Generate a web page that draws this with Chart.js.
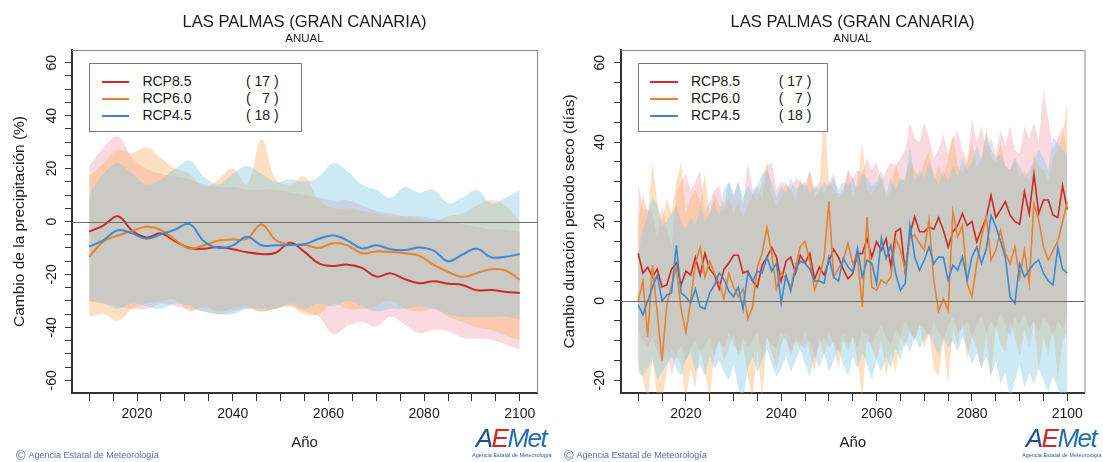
<!DOCTYPE html>
<html lang="es">
<head>
<meta charset="utf-8">
<title>Las Palmas (Gran Canaria) - Anual</title>
<script src="https://cdn.jsdelivr.net/npm/chart.js@4.4.0/dist/chart.umd.min.js"></script>
<style>
   html, body { margin: 0; padding: 0; background: #fff; }
   #wrap { position: relative; width: 1103px; height: 462px; overflow: hidden; background: #fff;
           font-family: "Liberation Sans", Arial, sans-serif; color: #1a1a1a; }
   canvas { position: absolute; top: 0; }
   #precChart { left: 0; }
   #dryChart { left: 551px; }
   .ttl { position: absolute; top: 12px; text-align: center; font-size: 16.6px; line-height: 20px; }
   .sub { position: absolute; top: 31px; text-align: center; font-size: 11.5px; line-height: 14px; }
   .leg { position: absolute; top: 63px; height: 69px; border: 1px solid #7a7a7a; box-sizing: border-box; background: #fff; }
   .leg .row { position: absolute; left: 0; right: 0; height: 17px; font-size: 14px; line-height: 17px; }
   .leg .ln { position: absolute; top: 8px; height: 2px; }
   .leg .nm { position: absolute; top: 0; }
   .leg .ct { position: absolute; top: 0; white-space: pre; }
   .foot { position: absolute; top: 449px; font-size: 9px; line-height: 13px; color: #4d6fa3; white-space: nowrap; }
   .foot b { font-weight: normal; font-size: 13px; vertical-align: -2px; margin-right: 3px; }
   .logo { position: absolute; top: 424px; width: 78px; text-align: center; }
   .logo .mk { font-style: italic; font-size: 26px; line-height: 28px; letter-spacing: -1.5px; }
   .logo .mk .a { color: #1d4f9c; }
   .logo .mk .e { color: #d7261e; }
   .logo .mk .m { color: #1f6db5; }
   .logo .cap { font-size: 5.5px; line-height: 7px; color: #2b5c9e; white-space: nowrap; }
</style>
</head>
<body>
<div id="wrap">
   <canvas id="precChart" width="551" height="462"></canvas>
   <canvas id="dryChart" width="552" height="462"></canvas>

   <div class="ttl" style="left:72px; width:465px;">LAS PALMAS (GRAN CANARIA)</div>
   <div class="sub" style="left:72px; width:465px;">ANUAL</div>
   <div class="ttl" style="left:621px; width:463px;">LAS PALMAS (GRAN CANARIA)</div>
   <div class="sub" style="left:621px; width:463px;">ANUAL</div>

   <div class="leg" id="precLegend" style="left:89px; width:213px;"></div>
   <div class="leg" id="dryLegend" style="left:638px; width:190px;"></div>

   <div class="foot" style="left:16px;"><b>©</b>Agencia Estatal de Meteorología</div>
   <div class="foot" style="left:564px;"><b>©</b>Agencia Estatal de Meteorología</div>

   <div class="logo" style="left:472px;">
      <div class="mk"><span class="a">A</span><span class="e">E</span><span class="m">Met</span></div>
      <div class="cap">Agencia Estatal de Meteorología</div>
   </div>
   <div class="logo" style="left:1022px;">
      <div class="mk"><span class="a">A</span><span class="e">E</span><span class="m">Met</span></div>
      <div class="cap">Agencia Estatal de Meteorología</div>
   </div>
</div>

<script>
/* -----------------------------------------------------------------------
      series / legend
   ----------------------------------------------------------------------- */
const scenarios = ['RCP8.5', 'RCP6.0', 'RCP4.5'];
const modelCounts = [17, 7, 18];

const xTickLabels = [2020, 2040, 2060, 2080, 2100];
const precTickLabels = [-60, -40, -20, 0, 20, 40, 60];
const dryTickLabels = [-20, 0, 20, 40, 60];

/* -----------------------------------------------------------------------
      left : cambio de la precipitacion (%) - smoothed
   ----------------------------------------------------------------------- */
const precYears = [2010, 2013, 2016, 2019, 2022, 2025, 2028, 2031, 2034, 2037, 2040,
   2043, 2046, 2049, 2052, 2055, 2058, 2061, 2064, 2067, 2070,
   2073, 2076, 2079, 2082, 2085, 2088, 2091, 2094, 2097, 2100];

const precR85 = [-3.8, -1.5, 2.0, -3.5, -6.0, -4.5, -7.5, -10.0, -10.3, -9.6, -10.5,
   -11.6, -12.3, -11.8, -8.0, -11.5, -15.8, -16.8, -16.3, -17.5, -20.8,
   -19.6, -21.8, -23.3, -22.6, -23.5, -24.0, -26.0, -25.9, -26.5, -27.0];
const precR60 = [-13.3, -7.5, -5.3, -3.5, -2.0, -3.2, -7.0, -10.2, -9.0, -7.2, -6.8,
   -6.5, -1.1, -7.0, -8.8, -8.8, -10.0, -8.2, -9.0, -12.0, -11.3,
   -11.5, -12.0, -13.0, -16.4, -19.0, -21.0, -19.5, -18.0, -18.5, -22.0];
const precR45 = [-9.5, -7.0, -3.3, -4.5, -6.5, -4.8, -3.0, -1.0, -7.5, -10.0, -9.0,
   -5.8, -9.0, -9.0, -8.9, -8.6, -6.5, -5.3, -7.2, -10.2, -9.0,
   -10.5, -10.8, -9.8, -11.0, -15.0, -12.5, -10.3, -13.5, -13.3, -12.3];

const precR85Hi = [21, 28, 32, 24, 20, 18, 17, 16, 14, 13, 13,
   12, 12, 12, 11, 10, 9, 8, 8, 6, 4,
   3, 2, 2, 1, 0, -1, -2, -3, -3, -4];
const precR85Lo = [-30, -31, -32, -33, -33, -31, -32, -33, -34, -35, -34,
   -33, -34, -33, -32, -34, -36, -42.5, -39.5, -38, -39.7,
   -36, -39, -42.2, -41, -41.5, -44, -44.3, -44.7, -46.5, -48.5];
const precR60Hi = [17, 22, 27, 26, 28, 24, 20, 18, 13, 16, 20,
   14, 31, 16, 14, 17, 8, 5, 5, 4, 3,
   2, 2, 1, 0, 2, 3, 6, 8, 6, 0];
const precR60Lo = [-36, -35, -37.5, -33, -31, -30, -29.5, -34, -32, -34, -33,
   -32, -34, -33, -32, -35, -35, -31, -33, -33, -32,
   -30, -33, -34, -33, -36, -38, -40, -41, -43, -45];
const precR45Hi = [10, 18, 22, 18, 14, 16, 20, 23, 17, 14, 18,
   21, 18, 15, 16, 15, 17, 22, 19, 14, 12,
   9, 13, 11, 12, 7, 9, 12, 7, 9, 12];
const precR45Lo = [-30, -31, -33, -31, -32, -33, -31, -32, -34, -35, -35,
   -33, -33, -33, -31, -33, -31, -32, -30, -32, -34,
   -33, -33, -32, -33, -35, -36, -36, -36, -36, -37];

/* -----------------------------------------------------------------------
      right : cambio duracion periodo seco (dias) - yearly
   ----------------------------------------------------------------------- */
const dryYears = [
   2010, 2011, 2012, 2013, 2014, 2015, 2016, 2017, 2018, 2019,
   2020, 2021, 2022, 2023, 2024, 2025, 2026, 2027, 2028, 2029,
   2030, 2031, 2032, 2033, 2034, 2035, 2036, 2037, 2038, 2039,
   2040, 2041, 2042, 2043, 2044, 2045, 2046, 2047, 2048, 2049,
   2050, 2051, 2052, 2053, 2054, 2055, 2056, 2057, 2058, 2059,
   2060, 2061, 2062, 2063, 2064, 2065, 2066, 2067, 2068, 2069,
   2070, 2071, 2072, 2073, 2074, 2075, 2076, 2077, 2078, 2079,
   2080, 2081, 2082, 2083, 2084, 2085, 2086, 2087, 2088, 2089,
   2090, 2091, 2092, 2093, 2094, 2095, 2096, 2097, 2098, 2099,
   2100];

const dryR85 = [
   12, 7, 8.5, 6, 8, 3.5, 4, 8, 9.5, 4,
   7.5, 6.5, 11, 6.5, 12, 8, 6.5, 3, 8, 9.5,
   11.5, 11.5, 7, 7.5, 5, 3.5, 9, 11, 13.5, 11,
   5, 10, 11, 7, 11.5, 9.5, 12, 5.5, 8.5, 6.5,
   10, 13, 11, 8, 5.6, 6.9, 11.9, 11.9, 15.7, 11,
   14.9, 12.8, 15.7, 8.6, 17.4, 18.2, 7.3, 17, 21.2, 17.4,
   17.4, 18.7, 18, 21, 17.8, 13.6, 17.4, 19, 22, 19,
   20, 14.9, 18, 21, 26.6, 21, 23, 25, 21.6, 20,
   19.3, 27.5, 22, 32, 22, 25.4, 25.4, 21.6, 21, 29,
   23];
const dryR60 = [
   0, 5, -9, 9, -3, -15, -1, 4, 8.5, -2,
   -8, 0, 9.5, 13.5, 6, 10, 7, 4.5, 0.5, 7,
   3.5, 1, 3, -4.5, -1.5, 8.5, 12, 18.5, 12, 3,
   7, 5.7, 3.6, 8.7, 13.7, 15, 10, 2.8, 6, 11,
   25, 6, 8, 10.3, 14.5, 9.4, 11.1, -1.5, 21.2, 3.5,
   2.7, 5.2, 4.4, 6, 15.7, 12.8, 7.7, 16.1, 16.6, 14.5,
   12.8, 20.3, 5.2, -2.5, 0.5, -2.4, 22.4, 16.1, 19, 4.4,
   1, 9.4, 16.1, 21.2, 10.3, 12.8, 17.8, 12, 9.4, 13.6,
   6, 12.8, 4.4, 24.5, 20.3, 13.6, 10.3, 12.8, 15, 20,
   25];
const dryR45 = [
   -1, -3.5, 0, 3.5, 6.5, 0, 1.5, 2, 14, 2,
   1, -0.5, 3, -1.5, -2, 2, 4, 7, 5.5, 2.5,
   1, 3.5, -2, 7, 5, 7.5, 7, 11, 7.5, 9.5,
   -0.5, 6.5, 2.5, 8, 10, 9.5, 8, 5, 5, 4.5,
   11, 6, 5, 10.7, 8.6, 7.3, 13.2, 6, 10.3, 9.4,
   4.4, 15.7, 10.7, 14, 6.9, 2.7, 4.4, 19, 11.1, 7.7,
   10.3, 13.6, 9.4, 11.1, 11, 5.2, 9, 7.7, 11.1, 5.2,
   11.1, 13.6, 9.4, 13, 21.5, 18.7, 15, 11, 1, -0.7,
   9.4, 6, 7.7, 9.4, 10.3, 6.9, 5, 4, 13.5, 8,
   7];

const dryR85Hi = [
   30, 23, 23, 22, 16, 24, 18, 14, 27, 30,
   32, 28, 30, 33, 22, 25, 28, 29, 24, 30,
   26, 30, 24, 35, 28, 29, 26, 34, 35, 28,
   30, 29, 28, 31, 30, 29, 33, 28, 30, 27,
   30, 32, 27, 28, 33, 31, 33, 32, 36, 33,
   35, 30, 33, 35, 34, 36, 38, 45, 41, 40,
   45, 41, 36, 38, 42, 37, 41, 43, 38, 35,
   46, 40, 44, 38, 41, 37, 43, 39, 44, 38,
   37, 44, 41, 45, 40, 53, 46, 38, 41, 44,
   37];
const dryR85Lo = [
   -8, -10, -12, -9, -13, -16, -12, -19, -14, -11,
   -15, -12, -10, -13, -11, -9, -14, -10, -12, -8,
   -11, -13, -9, -12, -10, -8, -13, -9, -11, -12,
   -8, -10, -13, -9, -11, -12, -10, -14, -11, -9,
   -12, -10, -13, -8, -11, -9, -12, -7, -10, -11,
   -8, -6, -9, -11, -7, -9, -5, -8, -10, -6,
   -7, -9, -5, -8, -10, -6, -4, -8, -7, -5,
   -9, -6, -4, -8, -5, -7, -3, -6, -9, -4,
   -6, -3, -7, -5, -8, -4, -6, -9, -5, -7,
   -4];
const dryR60Hi = [
   20, 27, 22, 35, 25, 20, 26, 22, 30, 35,
   22, 26, 28, 25, 32, 22, 27, 24, 23, 26,
   22, 25, 21, 24, 27, 25, 30, 35, 27, 24,
   26, 30, 28, 25, 31, 27, 33, 26, 28, 49,
   30, 28, 26, 27, 33, 26, 30, 40, 28, 27,
   29, 31, 26, 28, 35, 30, 31, 36, 33, 31,
   35, 38, 30, 34, 31, 36, 42, 34, 32, 35,
   40, 33, 36, 43, 36, 35, 40, 34, 33, 36,
   31, 33, 30, 37, 34, 33, 30, 36, 38, 42,
   50];
const dryR60Lo = [
   -16, -20, -25, -14, -25, -25, -18, -12, -14, -16,
   -25, -17, -22, -12, -18, -25, -13, -10, -15, -12,
   -8, -14, -11, -19, -25, -12, -25, -9, -13, -17,
   -11, -8, -14, -10, -12, -7, -13, -18, -9, -14,
   -8, -11, -17, -10, -13, -9, -15, -25, -8, -12,
   -15, -10, -19, -13, -18, -9, -12, -7, -10, -6,
   -12, -8, -17, -19, -10, -21, -7, -11, -5, -15,
   -9, -12, -17, -8, -20, -6, -11, -13, -5, -9,
   -14, -7, -12, -5, -18, -9, -14, -6, -20, -10,
   -8];
const dryR45Hi = [
   12, 18, 22, 26, 24, 19, 20, 22, 24, 20,
   18, 21, 19, 24, 20, 22, 25, 21, 28, 30,
   27, 30, 26, 29, 27, 29, 32, 33, 30, 26,
   29, 27, 31, 28, 29, 30, 27, 29, 28, 30,
   29, 31, 28, 30, 29, 31, 28, 32, 31, 29,
   30, 33, 27, 31, 28, 31, 30, 39, 30, 33,
   31, 35, 32, 29, 33, 30, 34, 31, 36, 33,
   35, 39, 35, 43, 38, 36, 37, 34, 33, 36,
   34, 31, 33, 35, 38, 36, 33, 41, 40, 38,
   37];
const dryR45Lo = [
   -18, -19, -17, -15, -20, -18, -16, -14, -17, -19,
   -15, -13, -18, -16, -19, -14, -17, -15, -18, -20,
   -16, -22, -25, -17, -14, -18, -15, -12, -16, -19,
   -17, -14, -18, -15, -12, -16, -19, -14, -17, -13,
   -18, -15, -12, -16, -19, -14, -17, -13, -16, -20,
   -15, -18, -14, -17, -12, -15, -10, -13, -9, -12,
   -10, -8, -11, -14, -9, -12, -10, -13, -9, -12,
   -16, -13, -17, -14, -19, -15, -21, -18, -25, -20,
   -16, -22, -18, -21, -17, -20, -23, -19, -22, -25,
   -23];

/* -----------------------------------------------------------------------
      styles
   ----------------------------------------------------------------------- */
const lineColors = ['#cc2a22', '#e8822e', '#3a8ad6'];
const bandColors = ['rgba(240, 150, 170, 0.36)', 'rgba(250, 178, 100, 0.40)', 'rgba(135, 202, 226, 0.42)'];
const AXIS_COLOR = '#333333';
const TEXT_COLOR = '#1a1a1a';

Chart.defaults.font.family = '"Liberation Sans", Arial, sans-serif';
Chart.defaults.color = TEXT_COLOR;

/* -----------------------------------------------------------------------
      frame : zero line + light top/right box
   ----------------------------------------------------------------------- */
const framePlugin = {
   id: 'frame',
   afterDatasetsDraw: function(chart) {
      const ctx = chart.ctx;
      const a = chart.chartArea;
      const y0 = Math.round(chart.scales.y.getPixelForValue(0)) + 0.5;
      ctx.save();
      ctx.lineWidth = 1;
      ctx.strokeStyle = '#6b6b6b';
      ctx.beginPath();
      ctx.moveTo(a.left, y0);
      ctx.lineTo(a.right, y0);
      ctx.stroke();
      ctx.strokeStyle = '#8a8a8a';
      ctx.beginPath();
      ctx.moveTo(a.left, a.top + 0.5);
      ctx.lineTo(a.right + 0.5, a.top + 0.5);
      ctx.lineTo(a.right + 0.5, a.bottom);
      ctx.stroke();
      ctx.restore();
   }
};

function toPoints(years, values) {
   return years.map(function(yr, i) { return {x: yr, y: values[i]}; });
}

/* -----------------------------------------------------------------------
      datasets : 3 lines on top, 3 bands (upper fills to lower) below
   ----------------------------------------------------------------------- */
function buildDatasets(years, lines, bands, tension, lineWidth) {
   const sets = [];
   lines.forEach(function(vals, k) {
      sets.push({
         data: toPoints(years, vals),
         borderColor: lineColors[k],
         borderWidth: lineWidth,
         pointRadius: 0,
         fill: false,
         tension: tension,
         order: 2 - k,
      });
   });
   bands.forEach(function(band, k) {
      sets.push({
         data: toPoints(years, band[0]),
         borderColor: 'transparent',
         borderWidth: 0,
         backgroundColor: bandColors[k],
         pointRadius: 0,
         fill: '+1',
         tension: tension,
         order: 10 - k,
      });
      sets.push({
         data: toPoints(years, band[1]),
         borderColor: 'transparent',
         borderWidth: 0,
         pointRadius: 0,
         fill: false,
         tension: tension,
         order: 10 - k,
      });
   });
   return sets;
}

function buildScales(o) {
   return {
      x: {
         type: 'linear',
         min: 2006.4,
         max: 2103.6,
         afterFit: function(scale) { scale.height = 69; },
         border: {display: true, color: AXIS_COLOR, width: 2},
         grid: {drawOnChartArea: false, drawTicks: true, tickLength: 8, tickColor: AXIS_COLOR, tickWidth: 1},
         ticks: {
            stepSize: 5, includeBounds: false, autoSkip: false, maxTicksLimit: 200, maxRotation: 0, minRotation: 0,
            padding: 5, color: TEXT_COLOR, font: {size: 14},
            callback: function(v) { return xTickLabels.indexOf(v) >= 0 ? String(v) : ''; },
         },
         title: {display: true, text: 'Año', color: TEXT_COLOR, font: {size: 15}, padding: {top: 0, bottom: 10}},
      },
      y: {
         type: 'linear',
         min: o.yMin,
         max: o.yMax,
         afterFit: function(scale) { scale.width = o.yWidth; },
         border: {display: true, color: AXIS_COLOR, width: 2},
         grid: {drawOnChartArea: false, drawTicks: true, tickLength: 7, tickColor: AXIS_COLOR, tickWidth: 1},
         ticks: {
            stepSize: 5, includeBounds: false, autoSkip: false, maxTicksLimit: 200,
            minRotation: 90, maxRotation: 90, crossAlign: 'center',
            padding: o.tickPad, color: TEXT_COLOR, font: {size: 14},
            callback: function(v) { return o.labels.indexOf(v) >= 0 ? String(v) : ''; },
         },
         title: {display: true, text: o.title, color: TEXT_COLOR, font: {size: 15.5}, padding: {top: o.titlePad, bottom: 0}},
      },
   };
}

function makeChart(id, datasets, scales, padRight) {
   return new Chart(document.getElementById(id), {
      type: 'line',
      data: {datasets: datasets},
      options: {
         responsive: false,
         animation: false,
         events: [],
         layout: {padding: {top: 50, right: padRight, bottom: 0, left: 0}},
         scales: scales,
         plugins: {
            legend: {display: false},
            tooltip: {enabled: false},
         },
      },
      plugins: [framePlugin],
   });
}

/* -----------------------------------------------------------------------
      legend boxes (html)
   ----------------------------------------------------------------------- */
function makeLegend(id, lineLeft, lineWidth, nameLeft, countRight) {
   const box = document.getElementById(id);
   scenarios.forEach(function(name, k) {
      const row = document.createElement('div');
      row.className = 'row';
      row.style.top = (8.5 + k * 17) + 'px';
      const ln = document.createElement('div');
      ln.className = 'ln';
      ln.style.left = lineLeft + 'px';
      ln.style.width = lineWidth + 'px';
      ln.style.background = lineColors[k];
      const nm = document.createElement('div');
      nm.className = 'nm';
      nm.style.left = nameLeft + 'px';
      nm.textContent = name;
      const ct = document.createElement('div');
      ct.className = 'ct';
      ct.style.right = countRight + 'px';
      const n = String(modelCounts[k]);
      ct.textContent = '( ' + (n.length < 2 ? '\u2007' + n : n) + ' )';
      row.appendChild(ln);
      row.appendChild(nm);
      row.appendChild(ct);
      box.appendChild(row);
   });
}

makeChart('precChart',
   buildDatasets(precYears,
      [precR85, precR60, precR45],
      [[precR85Hi, precR85Lo], [precR60Hi, precR60Lo], [precR45Hi, precR45Lo]],
      0.4, 2),
   buildScales({yMin: -64.8, yMax: 64.8, yWidth: 72, tickPad: 3, titlePad: 10,
      labels: precTickLabels, title: 'Cambio de la precipitación (%)'}),
   14);

makeChart('dryChart',
   buildDatasets(dryYears,
      [dryR85, dryR60, dryR45],
      [[dryR85Hi, dryR85Lo], [dryR60Hi, dryR60Lo], [dryR45Hi, dryR45Lo]],
      0, 1.6),
   buildScales({yMin: -23.2, yMax: 63.2, yWidth: 70, tickPad: 4, titlePad: 9.5,
      labels: dryTickLabels, title: 'Cambio duración periodo seco (días)'}),
   18.5);

makeLegend('precLegend', 12.4, 26.6, 52.4, 22.3);
makeLegend('dryLegend', 11.3, 28, 52, 15.7);
</script>
</body>
</html>
